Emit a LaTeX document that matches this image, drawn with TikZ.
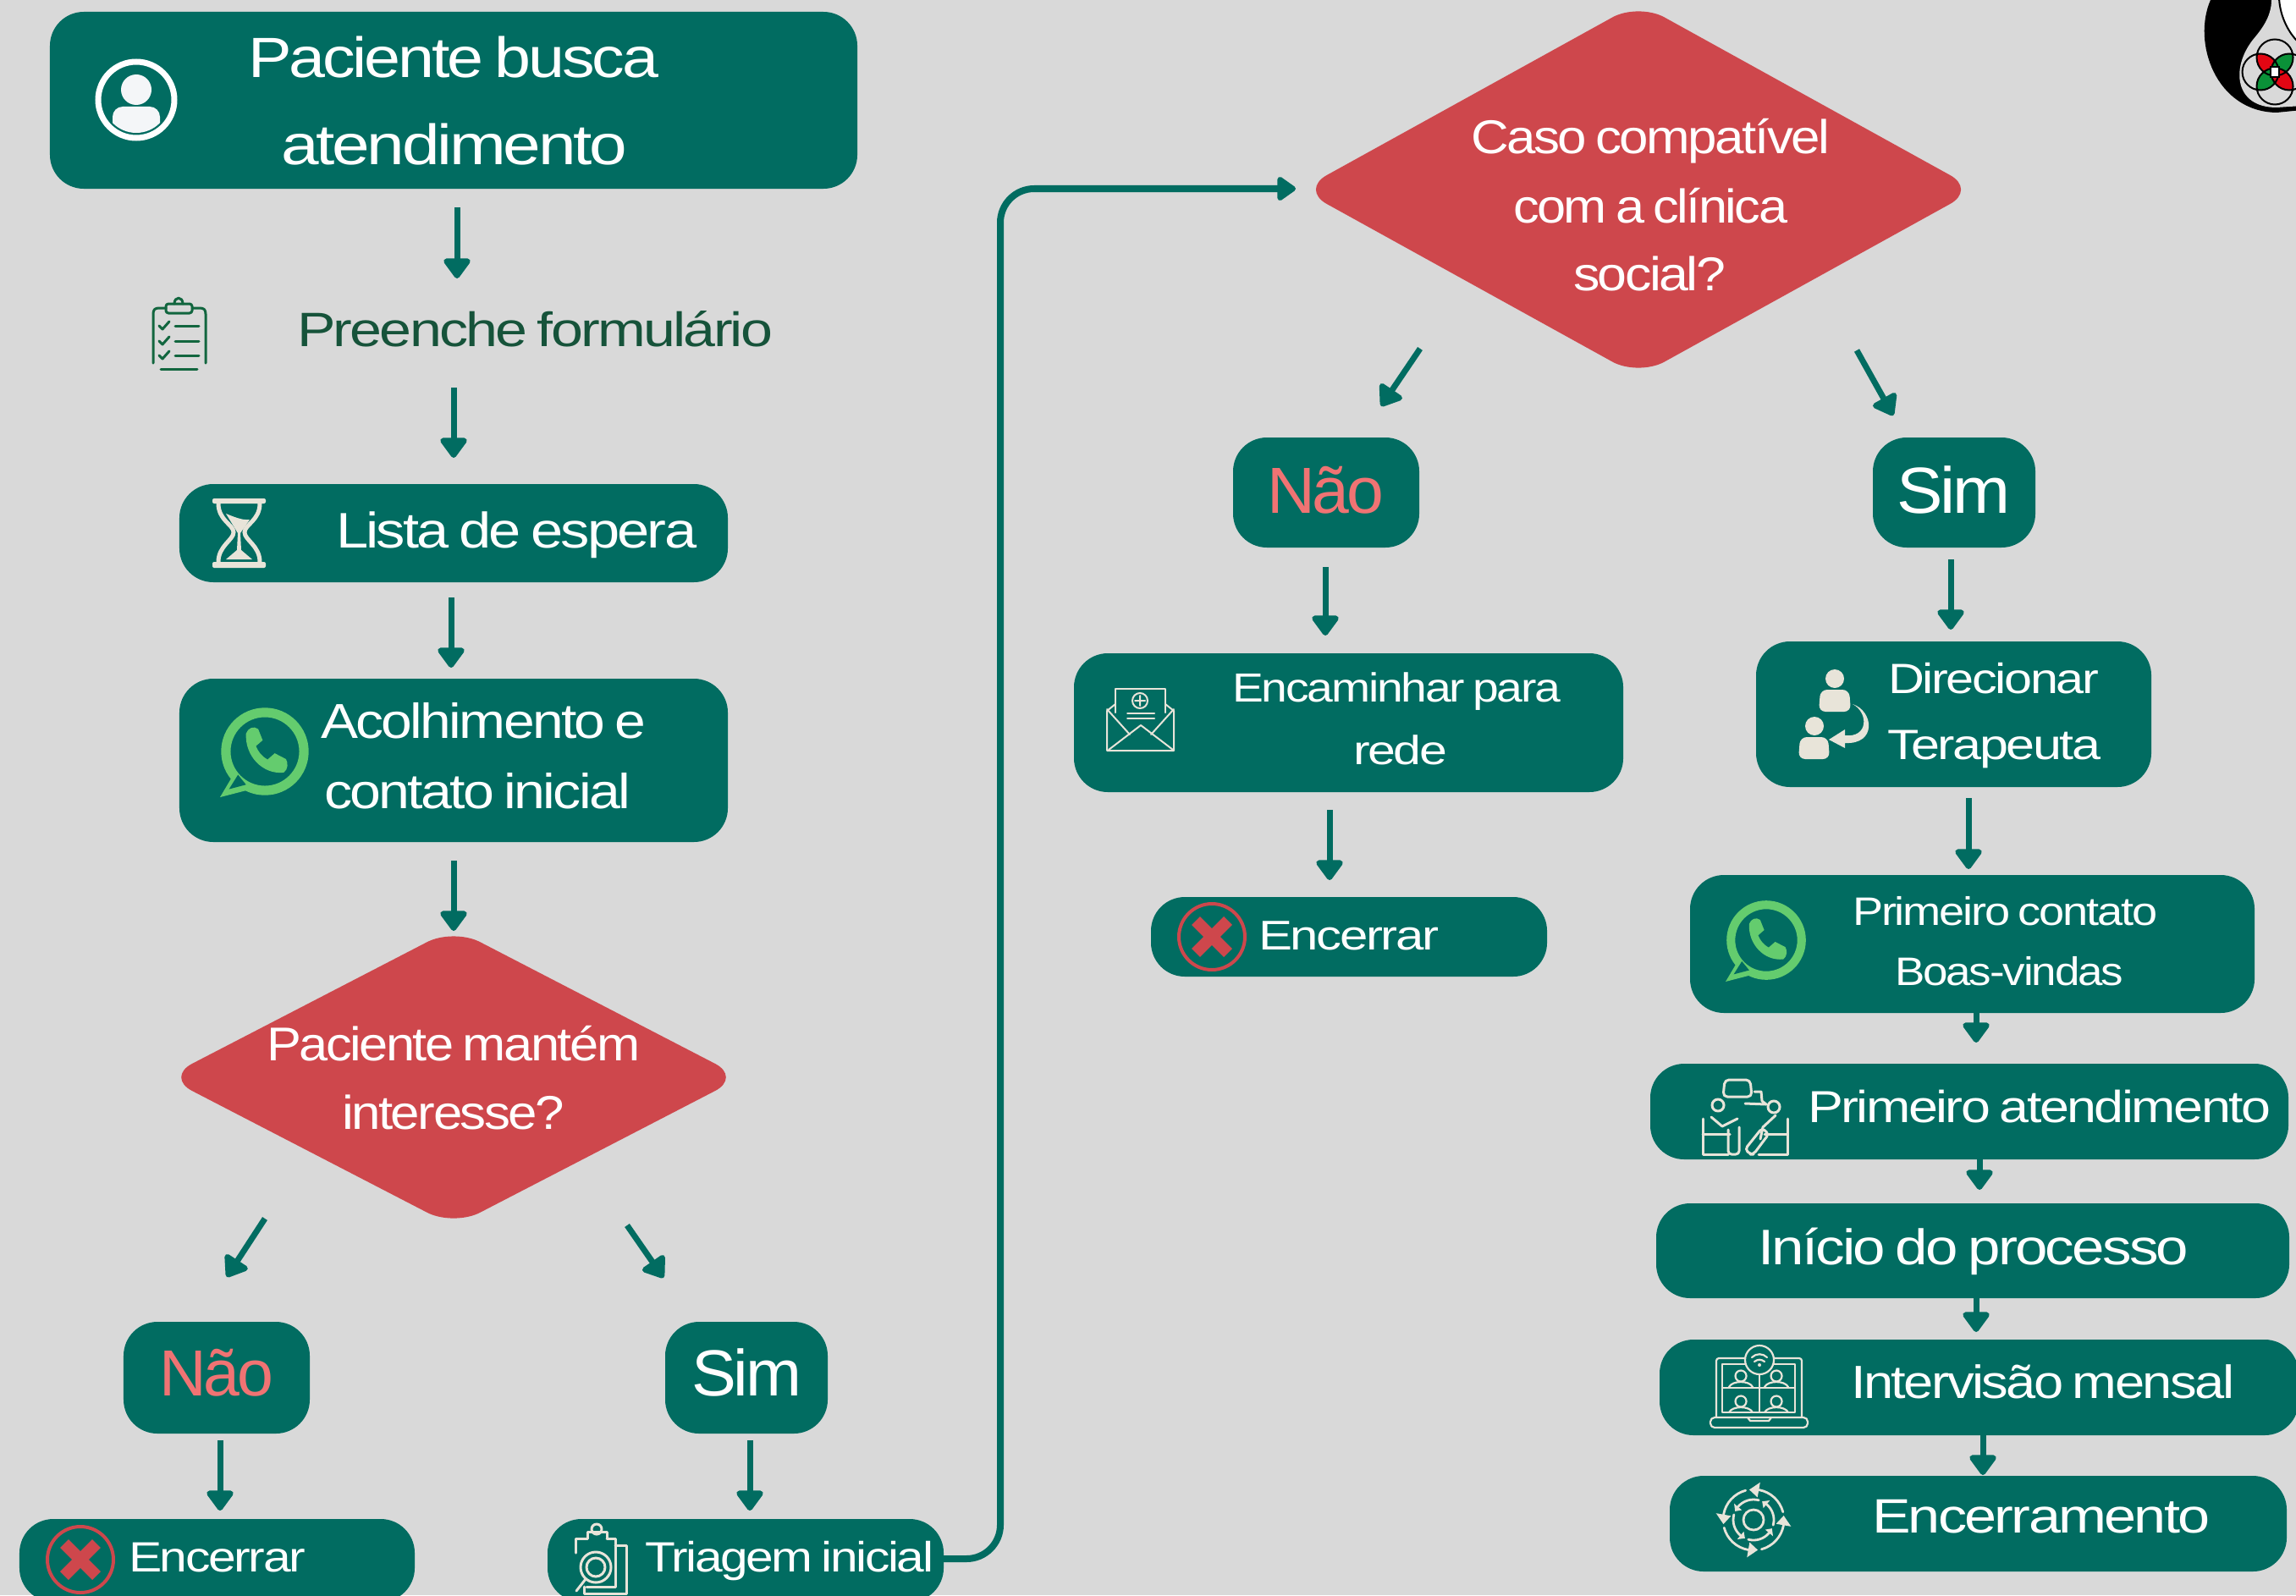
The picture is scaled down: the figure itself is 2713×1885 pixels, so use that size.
\documentclass[tikz,border=0pt]{standalone}
\usepackage{fontspec}
\usepackage{graphicx}
\setmainfont[LetterSpace=-4,WordSpace=0.7]{Liberation Sans}
\usetikzlibrary{arrows.meta,shapes.geometric,calc}
\definecolor{bgc}{HTML}{D9D9D9}
\definecolor{teal}{HTML}{016C61}
\definecolor{redd}{HTML}{CE474C}
\definecolor{naoc}{HTML}{F07373}
\definecolor{darkg}{HTML}{16533A}
\definecolor{clipg}{HTML}{12663F}
\definecolor{cream}{HTML}{E8E4D9}
\definecolor{wagreen}{HTML}{64CC6E}
\definecolor{softw}{HTML}{F4F6F8}
\definecolor{logor}{HTML}{E30613}
\definecolor{logog}{HTML}{0A9138}
\tikzset{
  box/.style={shape=rectangle,fill=teal,rounded corners=0.4cm,inner sep=0pt,outer sep=0pt},
  ghost/.style={shape=rectangle,inner sep=0pt,outer sep=0pt},
  dia/.style={shape=diamond,fill=redd,rounded corners=0.35cm,inner sep=0pt,outer sep=0pt},
  arr/.style={draw=teal,line width=0.07cm,-{Triangle[length=0.26cm,width=0.36cm,round]}},
  link/.style={draw=teal,line width=0.08cm,rounded corners=0.4cm,-{Triangle[length=0.24cm,width=0.32cm,round]}},
  ico/.style={draw=cream,line width=0.03cm,line cap=round,line join=round,fill=none},
}
\newsavebox\tb
\newcommand\realfont{\csname pgf@selectfontorig\endcsname}
% name, x, baseline, width, em (all in px of the reference), colour, text
\newcommand\lab[7]{%
  \pgfmathsetmacro\fs{#5*0.284528}%
  \sbox\tb{\color{#6}\fontsize{\fs pt}{\fs pt}\realfont #7}%
  \pgfmathsetmacro\sx{(#4+6)*0.284528/\the\wd\tb}%
  \pgfmathsetmacro\lx{#2-3}%
  \node[anchor=base west,inner sep=0pt,outer sep=0pt] (#1) at (\lx,#3) {\scalebox{\sx}[1]{\usebox\tb}};}
% style, name, x1, y1, x2, y2
\newcommand\bx[6][box]{%
  \pgfmathsetmacro\bw{(#5-#3)*0.01}\pgfmathsetmacro\bh{(#6-#4)*0.01}%
  \pgfmathsetmacro\bcx{(#3+#5)/2}\pgfmathsetmacro\bcy{(#4+#6)/2}%
  \node[#1,minimum width=\bw cm,minimum height=\bh cm] (#2) at (\bcx,\bcy) {};}
\newcommand\wa[3]{%
  \begin{scope}[shift={(#1,#2)},x=#3*0.01cm,y=-#3*0.01cm]
    \draw[wagreen,line width=#3*0.0021cm] (0,0) circle (0.87);
    \fill[wagreen] (-0.68,0.48) -- (-1.0,1.02) -- (-0.38,0.86) -- cycle;
    \fill[teal] (-0.60,0.52) -- (-0.80,0.84) -- (-0.42,0.74) -- cycle;
    \fill[wagreen] (-0.42,-0.40) .. controls (-0.45,0.1) and (-0.05,0.52) .. (0.42,0.47) .. controls (0.52,0.40) and (0.52,0.25) .. (0.47,0.17) -- (0.22,0.04) -- (0.06,0.18) .. controls (-0.08,0.1) and (-0.15,0) .. (-0.2,-0.12) -- (-0.05,-0.25) -- (-0.15,-0.50) .. controls (-0.25,-0.58) and (-0.38,-0.52) .. (-0.42,-0.40) -- cycle;
  \end{scope}}
\newcommand\xmark[2]{%
  \begin{scope}[shift={(#1,#2)}]
    \draw[redd,line width=0.04cm] (0,0) circle (39);
    \draw[redd,line width=0.14cm] (-19,-19) -- (19,19) (-19,19) -- (19,-19);
  \end{scope}}
\begin{document}
\begin{tikzpicture}[x=0.01cm,y=-0.01cm]
\useasboundingbox (0,0) rectangle (2713,1885);
\clip (0,0) rectangle (2713,1885);
\fill[bgc] (0,0) rectangle (2713,1885);

% logo
\fill[black] (2612,0) .. controls (2590,50) and (2618,132) .. (2690,133) -- (2720,130) -- (2720,0) -- cycle;
\fill[bgc] (2684,0) .. controls (2684,20) and (2672,35) .. (2662,47) .. controls (2636,80) and (2640,127) .. (2690,127) -- (2720,125) -- (2720,0) -- cycle;
\filldraw[fill=white,draw=black,line width=0.02cm] (2693,-2) .. controls (2694,20) and (2705,40) .. (2716,50) -- (2720,-2) -- cycle;
\begin{scope}
  \clip (2688,68) circle (21.5);
  \fill[logor] (2671,85) circle (21.5);
  \fill[logog] (2705,85) circle (21.5);
\end{scope}
\begin{scope}
  \clip (2688,102) circle (21.5);
  \fill[logog] (2671,85) circle (21.5);
  \fill[logor] (2705,85) circle (21.5);
\end{scope}
\draw[black,line width=0.02cm] (2688,68) circle (21.5) (2688,102) circle (21.5) (2671,85) circle (21.5) (2705,85) circle (21.5);
\filldraw[fill=white,draw=black,line width=0.015cm] (2683,79) rectangle (2693,91);

% boxes
\bx{box1}{59}{14}{1013}{223}
\bx[ghost]{preenche}{181}{350}{910}{436}
\bx{lista}{212}{572}{860}{688}
\bx{acolh}{212}{802}{860}{995}
\bx[dia]{dia1}{196}{1097}{876}{1449}
\bx{nao1}{146}{1562}{366}{1694}
\bx{sim1}{786}{1562}{978}{1694}
\bx{enc1}{23}{1795}{490}{1893}
\bx{tri}{647}{1795}{1115}{1893}
\bx[dia]{dia2}{1537}{3.5}{2335}{444.5}
\bx{nao2}{1457}{517}{1677}{647}
\bx{sim2}{2213}{517}{2405}{647}
\bx{enca}{1269}{772}{1918}{936}
\bx{enc2}{1360}{1060}{1828}{1154}
\bx{dire}{2075}{758}{2542}{930}
\bx{prim}{1997}{1034}{2664}{1197}
\bx{aten}{1950}{1257}{2704}{1370}
\bx{inic}{1957}{1422}{2705}{1534}
\bx{inter}{1961}{1583}{2716}{1696}
\bx{encm}{1973}{1744}{2702}{1857}

% texts
\lab{t1}{296}{92}{479}{67}{white}{Paciente busca}
\lab{t2}{335}{194}{403}{67}{white}{atendimento}
\lab{t3}{354}{409}{556}{57}{darkg}{Preenche formulário}
\lab{t4}{400}{647}{420}{59}{white}{Lista de espera}
\lab{t5}{382}{872}{378}{58}{white}{Acolhimento e}
\lab{t6}{386}{955}{356}{58}{white}{contato inicial}
\lab{t7}{318}{1253}{435}{56}{white}{Paciente mantém}
\lab{t8}{407}{1334}{257}{56}{white}{interesse?}
\lab{t9}{191}{1649}{129}{77}{naoc}{Não}
\lab{t10}{820}{1649}{124}{77}{white}{Sim}
\lab{t11}{155}{1857}{203}{50}{white}{Encerrar}
\lab{t12}{765}{1857}{335}{50}{white}{Triagem inicial}
\lab{t13}{1741}{182}{418}{56}{white}{Caso compatível}
\lab{t14}{1791}{263}{318}{56}{white}{com a clínica}
\lab{t15}{1862}{343}{174}{56}{white}{social?}
\lab{t16}{1500}{606}{132}{77}{naoc}{Não}
\lab{t17}{2244}{606}{128}{77}{white}{Sim}
\lab{t18}{1459}{829}{382}{48}{white}{Encaminhar para}
\lab{t19}{1602}{903}{105}{48}{white}{rede}
\lab{t20}{1490}{1122}{207}{49}{white}{Encerrar}
\lab{t21}{2234}{819}{243}{50}{white}{Direcionar}
\lab{t22}{2233}{897}{246}{50}{white}{Terapeuta}
\lab{t23}{2192}{1093}{354}{47}{white}{Primeiro contato}
\lab{t24}{2242}{1164}{264}{47}{white}{Boas-vindas}
\lab{t25}{2139}{1326}{541}{53}{white}{Primeiro atendimento}
\lab{t26}{2080}{1494}{503}{59}{white}{Início do processo}
\lab{t27}{2190}{1652}{447}{55}{white}{Intervisão mensal}
\lab{t28}{2215}{1811}{393}{57}{white}{Encerramento}

% connectors
\draw[arr] ([shift={(4,22)}]box1.south) -- ([shift={(-5.5,-21)}]preenche.north);
\draw[arr] ([shift={(-9.5,22)}]preenche.south) -- ([shift={(0,-31)}]lista.north);
\draw[arr] ([shift={(-3,18)}]lista.south) -- ([shift={(-3,-13)}]acolh.north);
\draw[arr] ([shift={(0,22)}]acolh.south) -- ([shift={(0,3)}]dia1.north);
\draw[arr] ([shift={(-223,-9)}]dia1.south) -- ([shift={(12,-53)}]nao1.north);
\draw[arr] ([shift={(205,-1)}]dia1.south) -- ([shift={(-98,-52)}]sim1.north);
\draw[arr] ([shift={(4,8)}]nao1.south) -- ([shift={(3.5,-10)}]enc1.north);
\draw[arr] ([shift={(4,8)}]sim1.south) -- ([shift={(5,-10)}]tri.north);
\coordinate (bend) at (1182,223);
\draw[link] ([shift={(0,-2)}]tri.east) -| (bend) -- ([shift={(-6,-1)}]dia2.west);
\draw[arr] ([shift={(-258,-32.5)}]dia2.south) -- ([shift={(65,-37)}]nao2.north);
\draw[arr] ([shift={(258,-30.5)}]dia2.south) -- ([shift={(-72,-26)}]sim2.north);
\draw[arr] ([shift={(-1,23)}]nao2.south) -- ([shift={(-27.5,-21)}]enca.north);
\draw[arr] ([shift={(-22.5,21)}]enca.south) -- ([shift={(-23,-20)}]enc2.north);
\draw[arr] ([shift={(-4,14)}]sim2.south) -- ([shift={(-3.5,-14)}]dire.north);
\draw[arr] ([shift={(17.5,13)}]dire.south) -- ([shift={(-4.5,-7)}]prim.north);
\draw[arr] ([shift={(4.5,0)}]prim.south) -- ([shift={(8,-25)}]aten.north);
\draw[arr] ([shift={(12,0)}]aten.south) -- ([shift={(8,-16)}]inic.north);
\draw[arr] ([shift={(4,0)}]inic.south) -- ([shift={(-3.5,-9)}]inter.north);
\draw[arr] ([shift={(4.5,0)}]inter.south) -- ([shift={(5.5,-1)}]encm.north);

% person icon
\draw[white,line width=0.07cm] (161,118) circle (45);
\fill[softw] (161,106) circle (18);
\begin{scope}
  \clip (161,118) circle (39);
  \fill[softw,rounded corners=0.12cm] (133,126) rectangle (189,180);
\end{scope}

% clipboard icon
\begin{scope}[draw=clipg,line width=0.03cm,line cap=round,line join=round]
  \draw (196,364) -- (188,364) .. controls (183,364) and (181,366) .. (181,371) -- (181,429);
  \draw (227,364) -- (236,364) .. controls (241,364) and (243,366) .. (243,371) -- (243,429);
  \draw[rounded corners=0.03cm] (196,370) rectangle (227,359);
  \draw (206,359) .. controls (206,350) and (216,350) .. (216,359);
  \draw (190,436) -- (233,436);
  \draw (207,385) -- (235,385) (207,403) -- (235,403) (207,420) -- (235,420);
  \draw (188,385) -- (192,389) -- (200,380);
  \draw (188,403) -- (192,407) -- (200,398);
  \draw (188,420) -- (192,424) -- (200,415);
\end{scope}

% hourglass icon
\fill[cream,rounded corners=0.02cm] (251,589) rectangle (314,595);
\fill[cream,rounded corners=0.02cm] (251,664) rectangle (314,671);
\draw[cream,line width=0.05cm] (258,595) .. controls (258,615) and (276,620) .. (276,629) .. controls (276,638) and (258,645) .. (258,664);
\draw[cream,line width=0.05cm] (307,595) .. controls (307,615) and (289,620) .. (289,629) .. controls (289,638) and (307,645) .. (307,664);
\fill[cream] (267,607) .. controls (275,610) and (285,615) .. (295,614) -- (284,630) -- (281,630) -- cycle;
\fill[cream] (281,630) -- (284,630) -- (285,650) -- (298,661) -- (267,661) -- (280,650) -- cycle;

% whatsapp icons
\wa{313}{888}{53}
\wa{2087}{1111}{48}

% closing marks
\xmark{95}{1843}
\xmark{1432}{1107}

% triage icon
\begin{scope}[ico]
  \draw (694,1818) -- (680,1818) -- (680,1835);
  \draw (717,1818) -- (727,1818) -- (727,1875) -- (693,1875);
  \draw (727,1826) -- (740,1826) -- (740,1883) -- (690,1883) -- (690,1875);
  \draw (694,1818) -- (694,1810) -- (717,1810) -- (717,1818);
  \draw (705,1807) circle (6);
  \draw (704,1852) circle (18) (704,1852) circle (11);
  \draw (692,1866) -- (681,1880);
\end{scope}

% envelope icon
\begin{scope}[ico,line width=0.02cm]
  \draw (1318,842) -- (1318,814) -- (1377,814) -- (1377,842);
  \draw (1318,832) -- (1308,840) -- (1308,887) -- (1387,887) -- (1387,840) -- (1377,832);
  \draw (1308,838) -- (1335,868) (1387,838) -- (1360,868);
  \draw (1348,857) -- (1310,886) (1348,857) -- (1386,886);
  \draw (1347,828) circle (9) (1341,828) -- (1353,828) (1347,822) -- (1347,834);
  \draw (1332,843) -- (1364,843) (1332,849) -- (1364,849);
\end{scope}

% redirect icon
\fill[cream] (2168,802) circle (11);
\fill[cream,rounded corners=0.08cm] (2149,841) -- (2151,815) -- (2185,815) -- (2187,841) -- cycle;
\fill[cream] (2144,858) circle (11);
\fill[cream,rounded corners=0.08cm] (2125,897) -- (2127,871) -- (2160,871) -- (2162,897) -- cycle;
\fill[cream] (2189,832) .. controls (2214,840) and (2218,880) .. (2180,878) -- (2180,884) -- (2161,874) -- (2180,862) -- (2180,869) .. controls (2208,872) and (2208,842) .. (2189,832) -- cycle;

% meeting icon
\begin{scope}[ico]
  \draw[rounded corners=0.05cm] (2038,1276) -- (2068,1276) -- (2070,1296) -- (2036,1296) -- cycle;
  \draw (2073,1290) -- (2081,1290) -- (2082,1301) -- (2087,1305) -- (2062,1304);
  \draw (2030,1306) circle (7) (2096,1308) circle (7);
  \draw (2012,1322) -- (2012,1364) -- (2042,1364);
  \draw (2012,1340) -- (2044,1340);
  \draw (2022,1320) -- (2035,1331) -- (2053,1322);
  \draw[rounded corners=0.04cm] (2042,1335) -- (2042,1364) -- (2055,1364) -- (2055,1332);
  \draw (2112,1322) -- (2112,1364) -- (2078,1364);
  \draw (2112,1340) -- (2085,1340);
  \draw (2098,1318) -- (2083,1332) -- (2080,1346);
  \draw[rounded corners=0.04cm] (2068,1364) -- (2062,1358) -- (2082,1333) -- (2090,1340) -- (2072,1364) -- cycle;
\end{scope}

% laptop icon
\begin{scope}[ico,line width=0.022cm]
  \draw[rounded corners=0.03cm] (2028,1674) -- (2028,1605) -- (2129,1605) -- (2129,1674);
  \draw (2035,1612) rectangle (2121,1669);
  \draw (2079,1612) -- (2079,1669) (2035,1640) -- (2121,1640);
  \draw[rounded corners=0.05cm] (2021,1675) -- (2136,1675) -- (2136,1687) -- (2021,1687) -- cycle;
  \draw (2065,1675) -- (2068,1679) -- (2090,1679) -- (2093,1675);
  \filldraw[fill=teal] (2079,1607) circle (17);
  \draw (2070,1604) .. controls (2075,1599) and (2083,1599) .. (2088,1604);
  \draw (2073,1609) .. controls (2077,1606) and (2081,1606) .. (2085,1609);
  \fill[cream] (2079,1613) circle (2);
  \foreach \hx in {2057,2099}{
    \foreach \hy in {1626,1656}{
      \draw (\hx,\hy) circle (6.5);
      \draw (\hx-14,\hy+13) .. controls (\hx-10,\hy+5) and (\hx+10,\hy+5) .. (\hx+14,\hy+13);
    }
  }
\end{scope}

% cycle icon
\begin{scope}[shift={(2072,1796)},ico,line width=0.028cm]
  \draw (0,0) circle (12);
  \foreach \a in {0,90,180,270}{
    \draw (\a+10:36) arc (\a+10:\a+75:36);
    \draw (\a+40:24) arc (\a+40:\a+105:24);
    \fill[cream] (\a+10:27) -- (\a+10:45) -- (\a-8:36) -- cycle;
    \fill[cream] (\a+40:18) -- (\a+40:30) -- (\a+25:24) -- cycle;
  }
\end{scope}
\end{tikzpicture}
\end{document}
